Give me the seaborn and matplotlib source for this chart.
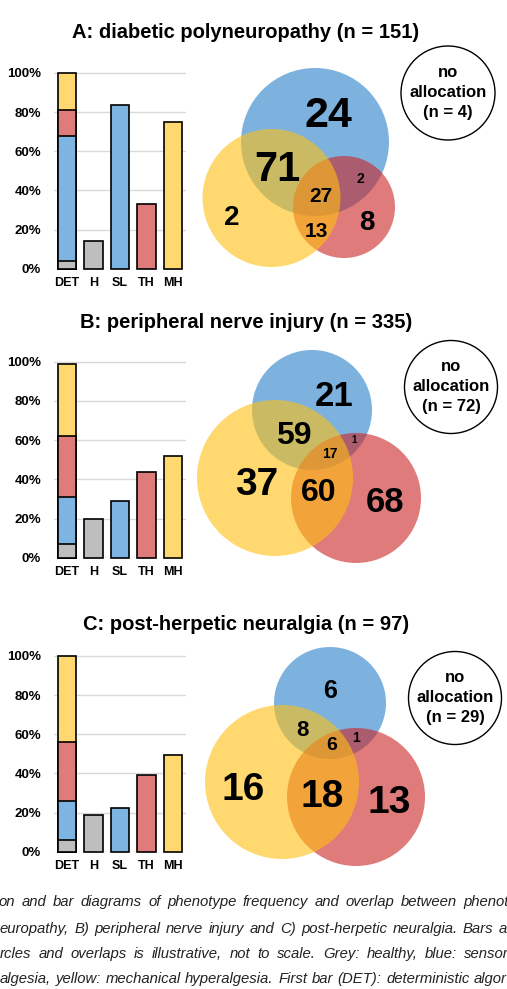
"""
Phenotype frequency and overlap: bar diagrams + Venn diagrams for three
neuropathic pain aetiologies (A: DPN, B: PNI, C: PHN).
"""

import numpy as np
import pandas as pd
import matplotlib
matplotlib.use("Agg")
import matplotlib.pyplot as plt
import seaborn as sns
from matplotlib.patches import Circle


# =============================================================================
# Data
# =============================================================================

categories = ['DET', 'H', 'SL', 'TH', 'MH']

# DET stacked bar segments in %: healthy, sensory loss, thermal hyp., mech. hyp.
det_a = [4, 64, 13, 19]
det_b = [7, 24, 31, 37]
det_c = [6, 20, 30, 44]

# single bars in %: H, SL, TH, MH
bars_a = [14, 83.5, 33, 75]
bars_b = [19.5, 29, 43.5, 52]
bars_c = [18.5, 22.5, 39, 49.5]

titles = ['A: diabetic polyneuropathy (n = 151)',
          'B: peripheral nerve injury (n = 335)',
          'C: post-herpetic neuralgia (n = 97)']

no_allocation = [4, 72, 29]

# Venn region counts: SL, MH, TH, SL+MH, SL+TH, MH+TH, SL+MH+TH
venn_a = [24, 2, 8, 71, 2, 13, 27]
venn_b = [21, 37, 68, 59, 1, 60, 17]
venn_c = [6, 16, 13, 8, 1, 18, 6]

caption_lines = [
    'on and bar diagrams of phenotype frequency and overlap between phenot',
    'europathy, B) peripheral nerve injury and C) post-herpetic neuralgia. Bars a',
    'rcles and overlaps is illustrative, not to scale. Grey: healthy, blue: sensor',
    'algesia, yellow: mechanical hyperalgesia.  First bar (DET): deterministic algor',
]


# =============================================================================
# Layout / style (pixels, figure is 507 x 989 at 100 dpi)
# =============================================================================

W, H = 507, 989
grey, blue, red, yellow = '#bebebe', '#7db4e1', '#e07b7b', '#ffd970'
palette = {'DET': yellow, 'H': grey, 'SL': blue, 'TH': red, 'MH': yellow}
det_colors = [grey, blue, red, yellow]

# circle base colours (drawn with alpha) : SL blue, TH red, MH yellow
c_blue, c_red, c_yellow = '#2680cb', '#cb2323', '#ffc011'

bar_y0 = [268.7, 557.7, 851.7]      # pixel row of 0 %
bar_y100 = [73, 361.7, 656]         # pixel row of 100 %
bar_x0, bar_x1 = 53.75, 186.25

title_xy = [(246, 33), (246.5, 323), (246, 624)]

# (cx, cy, r) for blue, red, yellow
circles = [
    [(315, 142, 74), (344, 207, 51), (271.5, 198, 69)],
    [(312, 410, 60), (356, 498, 65), (275, 478, 78)],
    [(330, 703, 56), (356, 797, 69), (282, 782, 77)],
]
noalloc_circ = [(448, 93, 47), (451, 387, 46.5), (455, 698, 46.5)]

# label centres and font sizes, same order as the Venn counts
venn_pos = [
    [(328, 112), (232, 215), (367, 220), (277, 166), (360, 178), (316, 230), (321, 195)],
    [(334, 394), (257, 481), (385, 500), (294, 433), (354, 440), (319, 490), (330, 453)],
    [(330, 689), (243, 786), (389, 799), (302, 728), (356, 737), (322, 793), (332, 743)],
]
venn_fs = [
    [31, 20, 20, 30, 10, 15, 15],
    [25, 28, 25, 23, 7, 23, 10],
    [18, 28, 28, 16, 10, 28, 14],
]

caption_y = [902, 929, 954, 979]
caption_x = [(-1, 463), (0, 499), (0, 464), (0, 474)]  # first word start, last word start


# =============================================================================
# Figure
# =============================================================================

sns.set_style("white")
plt.rcParams['font.family'] = ['Liberation Sans', 'DejaVu Sans']
plt.rcParams['text.color'] = 'black'
plt.rcParams['xtick.color'] = 'black'
plt.rcParams['ytick.color'] = 'black'

fig = plt.figure(figsize=(W / 100, H / 100), dpi=100)

vax = fig.add_axes([0, 0, 1, 1])
vax.set_xlim(0, W)
vax.set_ylim(H, 0)
vax.axis('off')

px = 100 / 72  # pixels per point

dets = [det_a, det_b, det_c]
bars = [bars_a, bars_b, bars_c]
venns = [venn_a, venn_b, venn_c]

for i in range(3):
    # ---- bar diagram ----
    y0, y100 = bar_y0[i], bar_y100[i]
    top = 102
    hgt = (y0 - y100) * top / 100
    ax = fig.add_axes([bar_x0 / W, 1 - y0 / H, (bar_x1 - bar_x0) / W, hgt / H])
    ax.set_facecolor('none')

    cum = np.cumsum(dets[i])
    df = pd.DataFrame({'cat': categories, 'val': [cum[-1]] + bars[i]})
    sns.barplot(data=df, x='cat', y='val', hue='cat', palette=palette,
                order=categories, width=0.68, saturation=1, edgecolor='black',
                linewidth=1.2, legend=False, ax=ax, zorder=3)
    for k in range(len(cum) - 2, -1, -1):
        sns.barplot(x=['DET'], y=[cum[k]], order=categories, color=det_colors[k],
                    width=0.68, saturation=1, edgecolor='black', linewidth=1.2,
                    ax=ax, zorder=3)
    for p in ax.patches:
        p.set_clip_on(False)

    ax.set_xlim(-0.5, 4.5)
    ax.set_ylim(0, top)
    ax.set_yticks(range(0, 101, 20))
    ax.set_yticklabels([f'{v}%' for v in range(0, 101, 20)])
    ax.yaxis.grid(True, color='#d9d9d9', lw=1)
    ax.set_axisbelow(True)
    sns.despine(ax=ax, left=True, bottom=True)
    ax.tick_params(axis='y', length=0, pad=9, labelsize=9.5)
    ax.tick_params(axis='x', length=0, pad=6, labelsize=9)
    for lab in ax.get_xticklabels() + ax.get_yticklabels():
        lab.set_fontweight('bold')
    ax.set_xlabel('')
    ax.set_ylabel('')

    # ---- title ----
    tx, ty = title_xy[i]
    vax.text(tx, ty, titles[i], ha='center', va='center', fontsize=14.5,
             fontweight='bold')

    # ---- Venn ----
    for (cx, cy, r), col in zip(circles[i], [c_blue, c_red, c_yellow]):
        vax.add_patch(Circle((cx, cy), r, facecolor=col, edgecolor='none',
                             alpha=0.6))
    for n, (x, y), fs in zip(venns[i], venn_pos[i], venn_fs[i]):
        vax.text(x, y + 0.358 * fs * px, str(n), ha='center', va='baseline',
                 fontsize=fs, fontweight='bold')

    cx, cy, r = noalloc_circ[i]
    vax.add_patch(Circle((cx, cy), r, facecolor='white', edgecolor='black',
                         lw=1))
    for txt, dy in zip(['no', 'allocation', f'(n = {no_allocation[i]})'],
                       [-16, 4, 24]):
        vax.text(cx, cy + dy, txt, ha='center', va='baseline', fontsize=12,
                 fontweight='bold')

# ---- caption, justified word by word ----
renderer = fig.canvas.get_renderer()
for line, y, (xs, xl) in zip(caption_lines, caption_y, caption_x):
    words = line.split()
    texts = [vax.text(0, y, w, ha='left', va='center', fontsize=10.7,
                      style='italic', color='#222222') for w in words]
    widths = [t.get_window_extent(renderer).width for t in texts]
    gap = (xl - xs - sum(widths[:-1])) / (len(words) - 1)
    x = xs
    for t, w in zip(texts, widths):
        t.set_x(x)
        x += w + gap

fig.savefig('out.png', dpi=100)
